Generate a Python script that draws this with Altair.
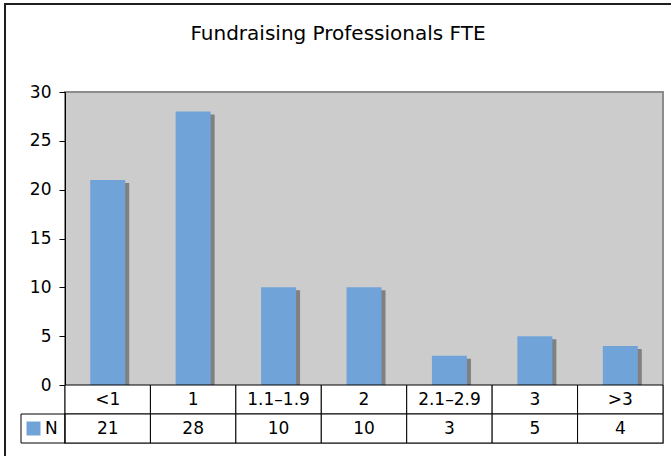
import altair as alt
import pandas as pd

# Number of respondents by fundraising-professional FTE band
categories = ["<1", "1", "1.1–1.9", "2", "2.1–2.9", "3", ">3"]
counts = [21, 28, 10, 10, 3, 5, 4]
series_name = "N"
y_ticks = [0, 5, 10, 15, 20, 25, 30]

bar_df = pd.DataFrame({"category": categories, "count": counts, "series": series_name})

# data table under the plot: a row of category labels and a row of counts
table_df = pd.DataFrame({
    "category": categories * 2,
    "row": ["label"] * len(categories) + ["value"] * len(categories),
    "text": categories + [str(c) for c in counts],
})

FONT = "DejaVu Sans"
W = 598
PLOT_H = 293
TABLE_H = 58
KEY_W = 44
BAR_COLOR = "#70a4d9"
SHADOW = "#808080"

x_cat = alt.X(
    "category:N",
    scale=alt.Scale(domain=categories, paddingInner=0, paddingOuter=0),
    axis=None,
)
count_scale = alt.Scale(domain=[0, 30], range=[PLOT_H, 0], nice=False)
row_scale = alt.Scale(domain=["label", "value"], range=[PLOT_H, PLOT_H + TABLE_H],
                      paddingInner=0, paddingOuter=0)
y_row = alt.Y("row:N", scale=row_scale, axis=None)

# outer chart frame
frame = alt.Chart(pd.DataFrame({"k": [0]})).mark_rect(
    fillOpacity=0, stroke="#1e1e1e", strokeWidth=2
).encode(
    x=alt.value(-60), x2=alt.value(W + 40),
    y=alt.value(-88), y2=alt.value(PLOT_H + TABLE_H + 40),
)

# drop shadow behind each bar
shadow = alt.Chart(bar_df).mark_bar(
    size=35, color=SHADOW, xOffset=4, yOffset=3
).encode(x=x_cat, y=alt.Y("count:Q", scale=count_scale, axis=None))

bars = alt.Chart(bar_df).mark_bar(size=35).encode(
    x=x_cat,
    y=alt.Y("count:Q", scale=count_scale,
            axis=alt.Axis(values=y_ticks, title=None, grid=False)),
    color=alt.Color(
        "series:N",
        scale=alt.Scale(range=[BAR_COLOR]),
        legend=alt.Legend(
            title=None, orient="none", legendX=-40, legendY=328, padding=0,
            symbolType="square", symbolSize=196, symbolStrokeWidth=0,
            labelFont=FONT, labelFontSize=17, labelColor="black", labelOffset=3,
        ),
    ),
)

cells = alt.Chart(table_df).mark_rect(
    fill="white", stroke="black", strokeWidth=1
).encode(x=x_cat, y=y_row)

# key cell at the left end of the value row, holding the series legend
key_cell = alt.Chart(pd.DataFrame({"row": ["value"]})).mark_rect(
    fillOpacity=0, stroke="black", strokeWidth=1
).encode(x=alt.value(-KEY_W), x2=alt.value(0), y=y_row)

cell_text = alt.Chart(table_df).mark_text(
    font=FONT, fontSize=17, color="black"
).encode(x=x_cat, y=y_row, text="text:N")

chart = alt.layer(frame, shadow, bars, cells, key_cell, cell_text).resolve_scale(
    y="independent"
).properties(
    width=W,
    height=PLOT_H + TABLE_H,
    autosize=alt.AutoSizeParams(type="none"),
    padding={"left": 65, "top": 92, "right": 8, "bottom": 13},
    background="white",
    title=alt.TitleParams(
        "Fundraising Professionals FTE",
        font=FONT, fontSize=20, fontWeight="normal", color="black",
        anchor="middle", frame="group", dx=-26, dy=57, offset=0,
        baseline="alphabetic",
    ),
).configure_view(
    fill="#cccccc", stroke="#8c8c8c", strokeWidth=2
).configure_axis(
    domainColor="black", tickColor="black", tickSize=6,
    labelFont=FONT, labelFontSize=17, labelColor="black", labelPadding=8,
)

chart.save("out.html", embed_options={"renderer": "svg", "actions": False})
